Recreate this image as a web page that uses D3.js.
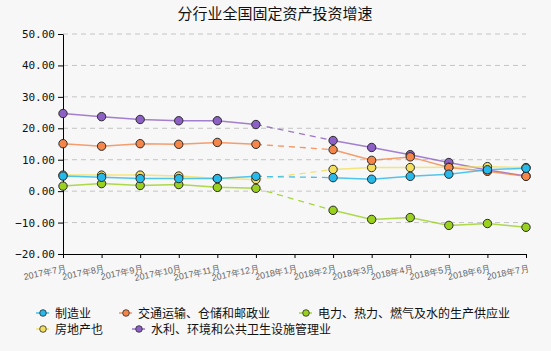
<!DOCTYPE html>
<html>
<head>
<meta charset="utf-8">
<script src="https://cdn.jsdelivr.net/npm/d3@7"></script>
<style>
  body { margin: 0; background: #f7f7f7; }
  svg { display: block; font-family: "Noto Sans CJK SC", "DejaVu Sans", sans-serif; }
</style>
</head>
<body>
<svg id="chart" width="551" height="351"></svg>
<script>
// months on the x axis (2018年1月 has no data)
const months = ["2017年7月", "2017年8月", "2017年9月", "2017年10月", "2017年11月", "2017年12月",
  "2018年1月", "2018年2月", "2018年3月", "2018年4月", "2018年5月", "2018年6月", "2018年7月"];

const manufacturing = [4.8, 4.4, 4.0, 4.0, 4.0, 4.7, null, 4.3, 3.8, 4.7, 5.4, 6.8, 7.3];
const transport     = [15.1, 14.3, 15.1, 14.9, 15.5, 14.9, null, 13.2, 9.8, 10.9, 7.5, 6.3, 4.7];
const utilities     = [1.6, 2.4, 1.8, 2.1, 1.2, 0.9, null, -6.1, -9.0, -8.4, -10.9, -10.3, -11.5];
const realEstate    = [5.1, 5.1, 5.1, 4.8, 4.0, 3.7, null, 6.9, 7.5, 7.5, 7.6, 7.8, 7.5];
const water         = [24.7, 23.7, 22.8, 22.4, 22.4, 21.2, null, 16.1, 13.9, 11.6, 9.1, 6.7, 4.8];

const seriesNames = ["制造业", "交通运输、仓储和邮政业", "电力、热力、燃气及水的生产供应业", "房地产也", "水利、环境和公共卫生设施管理业"];
const colors = ["#27b9ea", "#f5864a", "#9ad11f", "#f3df5c", "#8d60c6"];
const yTicks = [-20, -10, 0, 10, 20, 30, 40, 50];

const series = [manufacturing, transport, utilities, realEstate, water].map((v, i) => ({
  name: seriesNames[i], color: colors[i], values: v
}));

const svg = d3.select("#chart");
const margin = { left: 63, right: 25, top: 34, bottom: 97 };
const W = 551, H = 351;

const x = d3.scalePoint().domain(months).range([margin.left, W - margin.right]);
const y = d3.scaleLinear().domain([-20, 50]).range([H - margin.bottom, margin.top]);

svg.append("rect").attr("width", W).attr("height", H).attr("fill", "#f7f7f7");

// title
svg.append("text").attr("x", 275).attr("y", 19).attr("text-anchor", "middle")
  .attr("font-size", 15).attr("fill", "#111").text("分行业全国固定资产投资增速");

// grid
svg.append("g").selectAll("line").data(yTicks.filter(t => t > -20)).join("line")
  .attr("x1", margin.left).attr("x2", W - margin.right)
  .attr("y1", d => y(d)).attr("y2", d => y(d))
  .attr("stroke", "#c4c4c4").attr("stroke-dasharray", "5,4");

// y axis
const yAxis = svg.append("g").attr("transform", `translate(${margin.left},0)`)
  .call(d3.axisLeft(y).tickValues(yTicks).tickFormat(d3.format(".2f")).tickSize(5).tickSizeOuter(0));
yAxis.select(".domain").attr("stroke", "#000");
yAxis.selectAll("text").attr("font-size", 11).attr("fill", "#111").attr("font-family", "DejaVu Sans Mono, monospace");

// x axis
const xAxis = svg.append("g").attr("transform", `translate(0,${H - margin.bottom})`)
  .call(d3.axisBottom(x).tickSize(4).tickSizeOuter(0));
xAxis.select(".domain").attr("stroke", "#000");
xAxis.selectAll("text")
  .attr("font-size", 9).attr("fill", "#666")
  .attr("text-anchor", "end")
  .attr("dy", 0).attr("y", 0)
  .attr("transform", "translate(3,17) rotate(-12)");

// lines
const line = d3.line().defined(d => d[1] != null).x(d => x(d[0])).y(d => y(d[1]));
const drawOrder = series.slice().reverse();

drawOrder.forEach(s => {
  const pts = months.map((m, i) => [m, s.values[i]]);
  // dashed bridge across the missing month
  const gi = s.values.indexOf(null);
  svg.append("line")
    .attr("x1", x(months[gi - 1])).attr("y1", y(s.values[gi - 1]))
    .attr("x2", x(months[gi + 1])).attr("y2", y(s.values[gi + 1]))
    .attr("stroke", s.color).attr("stroke-width", 1.3).attr("stroke-dasharray", "6,5").attr("opacity", 0.85);
  svg.append("path").datum(pts).attr("d", line)
    .attr("fill", "none").attr("stroke", s.color).attr("stroke-width", 1.5).attr("opacity", 0.8);
});

drawOrder.forEach(s => {
  svg.append("g").selectAll("circle")
    .data(months.map((m, i) => [m, s.values[i]]).filter(d => d[1] != null))
    .join("circle")
    .attr("cx", d => x(d[0])).attr("cy", d => y(d[1])).attr("r", 4.2)
    .attr("fill", s.color).attr("stroke", "#2a2a2a").attr("stroke-width", 1);
});

// legend
const legendPos = [[36, 313], [119, 313], [299, 313], [36, 329], [132, 329]];
series.forEach((s, i) => {
  const [lx, ly] = legendPos[i];
  const g = svg.append("g").attr("transform", `translate(${lx},${ly})`);
  g.append("line").attr("x1", 0).attr("x2", 13).attr("stroke", s.color).attr("stroke-width", 1.3);
  g.append("circle").attr("cx", 7).attr("r", 3.3).attr("fill", s.color).attr("stroke", "#2a2a2a").attr("stroke-width", 0.8);
  g.append("text").attr("x", 19).attr("y", 4.5).attr("font-size", 12).attr("fill", "#111").text(s.name);
});
</script>
</body>
</html>
